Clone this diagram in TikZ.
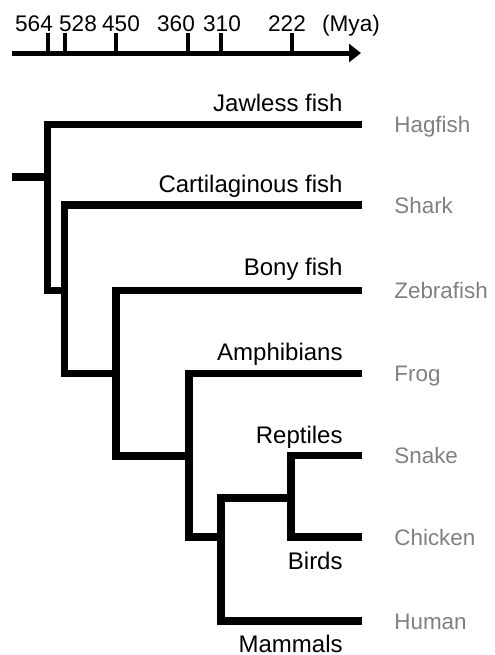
\documentclass[tikz,border=0pt]{standalone}
\usepackage{fontspec}
\setmainfont{Liberation Sans}
\usetikzlibrary{arrows.meta}
\definecolor{leafgray}{RGB}{128,128,128}

\begin{document}
\begin{tikzpicture}[x=0.5pt,y=-0.5pt,line cap=butt,line join=miter,
  branch/.style={line width=3.75pt},
  timetick/.style={line width=2pt},
  clade/.style={font=\fontsize{12}{14}\selectfont,inner sep=0pt,anchor=base east},
  species/.style={font=\fontsize{11.2}{13}\selectfont,text=leafgray,inner sep=0pt,anchor=base west},
  ticklabel/.style={font=\fontsize{11.3}{13}\selectfont,inner sep=0pt,anchor=base}]
  \useasboundingbox (0,0) rectangle (494,655);
  \coordinate (ax0) at (12,53);
  \coordinate (ax1) at (361,53);
  \draw[line width=2.5pt,-{Triangle[length=6pt,width=9pt]}] (ax0) -- (ax1);
  \foreach \tx/\lx/\my in {48/34/564,65/78/528,116/121/450,188/176/360,221/222/310,292/287/222}{
    \coordinate (tk\my) at (\tx,53);
    \draw[timetick] (tk\my) -- ++(0,-20);
    \node[ticklabel] (lb\my) at (\lx,31) {\my};
  }
  \node[ticklabel] (mya) at (351,31) {(Mya)};

  \coordinate (stub) at (12,177);
  \coordinate (n1) at (47.5,177);
  \coordinate (n2) at (64.5,290.7);
  \coordinate (n3) at (116,373.3);
  \coordinate (n4) at (189,456);
  \coordinate (n5) at (221,537);
  \coordinate (n6) at (291,498);
  \coordinate (hagE) at (362,124.5);
  \coordinate (sharkE) at (362,205);
  \coordinate (zebraE) at (362,290.7);
  \coordinate (frogE) at (362,373.3);
  \coordinate (snakeE) at (362,455.5);
  \coordinate (chickenE) at (362,537);
  \coordinate (humanE) at (362,621);

  \draw[branch] (stub) -- (n1);
  \draw[branch] (n1) |- (hagE);
  \draw[branch] (n1) |- (n2);
  \draw[branch] (n2) |- (sharkE);
  \draw[branch] (n2) |- (n3);
  \draw[branch] (n3) |- (zebraE);
  \draw[branch] (n3) |- (n4);
  \draw[branch] (n4) |- (frogE);
  \draw[branch] (n4) |- (n5);
  \draw[branch] (n5) |- (n6);
  \draw[branch] (n5) |- (humanE);
  \draw[branch] (n6) |- (snakeE);
  \draw[branch] (n6) |- (chickenE);

  \node[clade] (jawless) at (343,111.5) {Jawless fish};
  \node[clade] (cartilag) at (343,192) {Cartilaginous fish};
  \node[clade] (bony) at (343,275) {Bony fish};
  \node[clade] (amphib) at (343,360) {Amphibians};
  \node[clade] (reptiles) at (343,443) {Reptiles};
  \node[clade] (birds) at (343,569) {Birds};
  \node[clade] (mammals) at (343,652) {Mammals};

  \node[species] (hagfish) at (394,132.5) {Hagfish};
  \node[species] (shark) at (394,213) {Shark};
  \node[species] (zebrafish) at (394,298.7) {Zebrafish};
  \node[species] (frog) at (394,381.3) {Frog};
  \node[species] (snake) at (394,463.5) {Snake};
  \node[species] (chicken) at (394,545) {Chicken};
  \node[species] (human) at (394,629) {Human};
\end{tikzpicture}
\end{document}
